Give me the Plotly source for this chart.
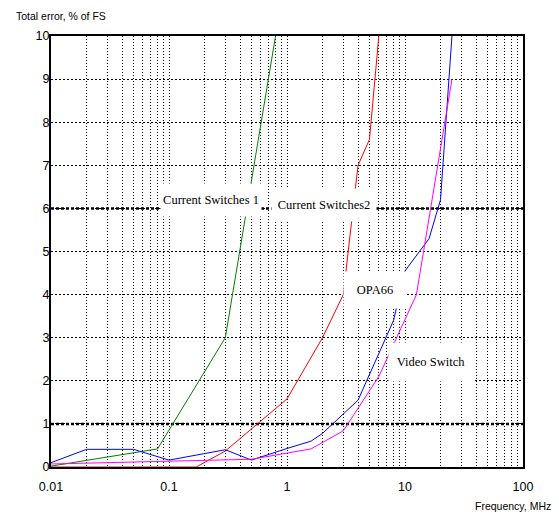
import math
import plotly.graph_objects as go

# ---- data ----
cs1_freq = [0.01, 0.08, 0.3, 0.8]
cs1_err = [0.02, 0.42, 3.0, 10.0]

cs2_freq = [0.01, 0.17, 0.3, 1.0, 2.0, 3.0, 4.0, 5.0, 6.0]
cs2_err = [0.0, 0.0, 0.37, 1.58, 3.0, 4.0, 7.0, 7.6, 10.0]

opa_freq = [0.01, 0.02, 0.05, 0.1, 0.3, 0.5, 1.0, 1.6, 2.0, 4.0, 8.0, 10.0, 16.0, 20.0, 25.0]
opa_err = [0.1, 0.41, 0.41, 0.16, 0.4, 0.16, 0.43, 0.6, 0.78, 1.55, 3.4, 4.55, 5.3, 6.2, 10.0]

vid_freq = [0.01, 0.5, 1.6, 3.0, 6.0, 12.5, 25.0]
vid_err = [0.07, 0.18, 0.42, 0.84, 2.1, 4.0, 9.0]

x_ticks = [0.01, 0.1, 1, 10, 100]
x_tick_text = ["0.01", "0.1", "1", "10", "100"]
y_ticks = list(range(0, 11))
heavy_grid_y = [1, 6]

series = [
    ("Current Switches 1", cs1_freq, cs1_err, "#008000"),
    ("Current Switches2", cs2_freq, cs2_err, "#ff0000"),
    ("OPA66", opa_freq, opa_err, "#0000ff"),
    ("Video Switch", vid_freq, vid_err, "#ff00ff"),
]

# label placement (frequency, error) and box size
labels = [
    ("Current Switches 1", 0.229, 6.2, 100, 32),
    ("Current Switches2", 2.06, 6.08, 104, 32),
    ("OPA66", 5.6, 4.1, 62, 36),
    ("Video Switch", 16.5, 2.43, 84, 38),
]

minor_vals = [m * 10 ** e for e in range(-2, 2) for m in range(2, 10)]

fig = go.Figure()
for name, fx, fy, col in series:
    fig.add_trace(go.Scatter(x=fx, y=fy, mode="lines", name=name,
                             line=dict(color=col, width=1), cliponaxis=False,
                             showlegend=False))

for gy in heavy_grid_y:
    fig.add_shape(type="line", xref="paper", yref="y", x0=0, x1=1, y0=gy, y1=gy,
                  line=dict(color="black", width=2.5, dash="3px,2px"), layer="below")

W, H = 559, 514
L, R, T, B = 50.5, 523, 36, 467.5

def px_to_paper_x(px):
    return (px - L) / (R - L)

def px_to_paper_y(py):
    return (B - py) / (B - T)

annotations = []
for txt, fx, fy, w, h in labels:
    annotations.append(dict(x=math.log10(fx), y=fy, xref="x", yref="y", text=txt,
                            showarrow=False, bgcolor="white", width=w, height=h,
                            borderpad=0, xanchor="center", yanchor="middle",
                            font=dict(family="Liberation Serif", size=12.5, color="black")))

annotations.append(dict(x=px_to_paper_x(13), y=px_to_paper_y(15.5), xref="paper", yref="paper",
                        text="Total error, % of FS", showarrow=False,
                        xanchor="left", yanchor="middle",
                        font=dict(family="Liberation Sans", size=10.5, color="black")))
annotations.append(dict(x=px_to_paper_x(553), y=px_to_paper_y(507), xref="paper", yref="paper",
                        text="Frequency, MHz", showarrow=False,
                        xanchor="right", yanchor="middle",
                        font=dict(family="Liberation Sans", size=10.5, color="black")))

fig.update_layout(
    width=W, height=H,
    margin=dict(l=L, r=W - R, t=T, b=H - B, pad=0),
    paper_bgcolor="white", plot_bgcolor="white",
    font=dict(family="Liberation Sans", size=12, color="black"),
    annotations=annotations,
    xaxis=dict(type="log", range=[-2, 2], tickvals=x_ticks, ticktext=x_tick_text,
               showline=True, linecolor="black", linewidth=2, mirror=True,
               showgrid=True, gridcolor="black", gridwidth=1, griddash="1px,2px",
               minor=dict(tickvals=minor_vals, showgrid=True, gridcolor="black",
                          gridwidth=1, griddash="1px,2px", ticks=""),
               ticks="", zeroline=False, layer="below traces",
               tickfont=dict(family="Liberation Sans", size=12.5),
               ticklabelstandoff=7),
    yaxis=dict(range=[0, 10], tickvals=y_ticks,
               showline=True, linecolor="black", linewidth=2, mirror=True,
               showgrid=True, gridcolor="black", gridwidth=1, griddash="2px,2px",
               ticks="", zeroline=False, layer="below traces",
               tickfont=dict(family="Liberation Sans", size=12.5),
               ticklabelstandoff=-3),
)

fig.write_html("out.html", config={"displayModeBar": False},
               post_script="document.body.style.margin='0';")
